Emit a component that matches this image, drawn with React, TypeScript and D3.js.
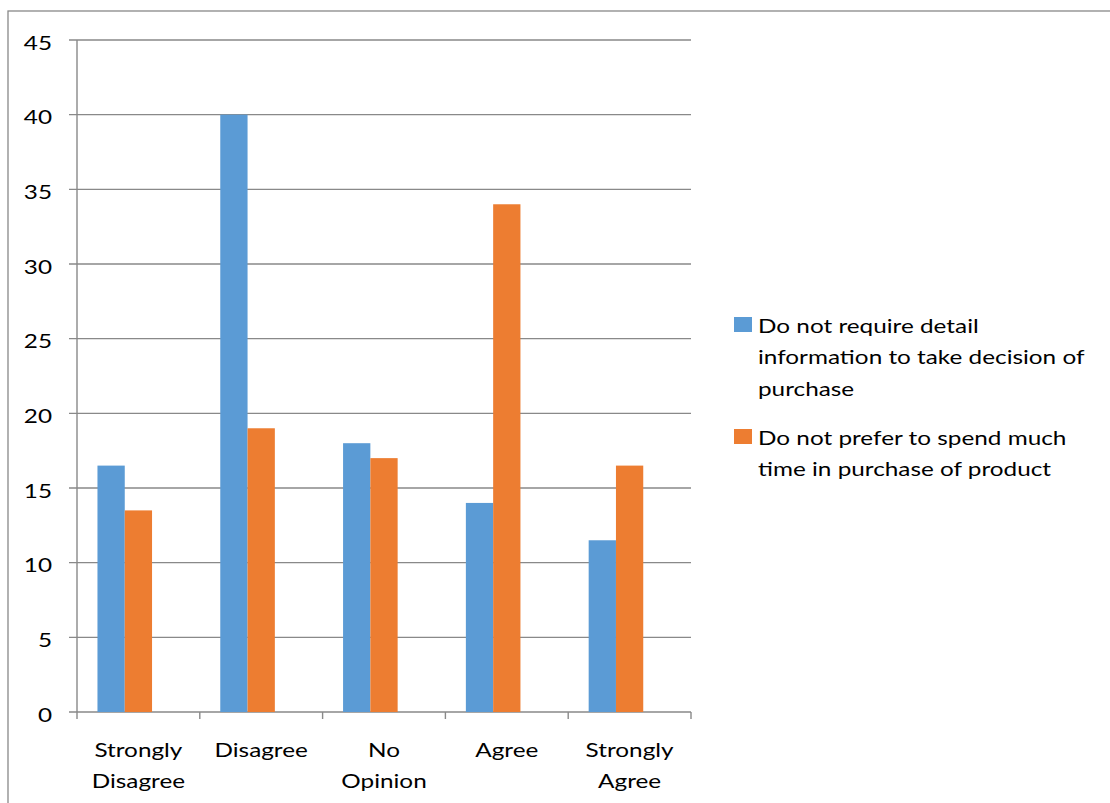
import React from "react";
import * as d3 from "d3";

const categories = ["Strongly Disagree", "Disagree", "No Opinion", "Agree", "Strongly Agree"];
const categoryLines = [["Strongly", "Disagree"], ["Disagree"], ["No", "Opinion"], ["Agree"], ["Strongly", "Agree"]];
const seriesNames = [
  "Do not require detail information to take decision of purchase",
  "Do not prefer to spend much time in purchase of product",
];
const legendLines = [
  ["Do not require detail", "information to take decision of", "purchase"],
  ["Do not prefer to spend much", "time in purchase of product"],
];
const seriesA = [16.5, 40, 18, 14, 11.5];
const seriesB = [13.5, 19, 17, 34, 16.5];
const yTicks = [0, 5, 10, 15, 20, 25, 30, 35, 40, 45];
const colors = ["#5B9BD5", "#ED7D31"];

const W = 1110, H = 803;
const left = 77, right = 691, top = 40, bottom = 712;
const font = "Lato, 'Open Sans', sans-serif";
const axisColor = "#898989";
const SX = 1.28;
const FS = 19;

export default function App() {
  const x = d3.scaleBand<string>().domain(categories).range([left, right]).paddingInner(0).paddingOuter(0);
  const y = d3.scaleLinear().domain([0, 45]).range([bottom, top]);
  const bw = x.bandwidth();
  const barW = bw / 4.5; // 3 slots (third empty), gap width 150%
  const series = [seriesA, seriesB];
  return (
    <svg width={W} height={H} style={{ position: "absolute", left: 0, top: 0, background: "#fff" }}>
      <rect x={8} y={11} width={W} height={H} fill="#fff" stroke={axisColor} strokeWidth={1.3} />
      {yTicks.map((t) => (
        <g key={t}>
          <line x1={69} x2={right} y1={y(t)} y2={y(t)} stroke={axisColor} strokeWidth={1.4} />
          <text transform={`translate(52,${y(t) + 9.5}) scale(${SX},1)`} textAnchor="end" fontFamily={font} fontSize={FS} fill="#000">{t}</text>
        </g>
      ))}
      <line x1={left} x2={left} y1={top} y2={bottom} stroke={axisColor} strokeWidth={1.4} />
      {categories.map((c) => (
        <line key={c} x1={x(c) as number} x2={x(c) as number} y1={bottom} y2={bottom + 7} stroke={axisColor} strokeWidth={1.4} />
      ))}
      <line x1={right} x2={right} y1={bottom} y2={bottom + 7} stroke={axisColor} strokeWidth={1.4} />
      {series.map((vals, si) =>
        vals.map((v, i) => {
          const bx = (x(categories[i]) as number) + 0.75 * barW + si * barW;
          return <rect key={si + "-" + i} x={bx} y={y(v)} width={barW} height={y(0) - y(v)} fill={colors[si]} />;
        })
      )}
      {categoryLines.map((lines, i) => (
        <text key={i} transform={`translate(${(x(categories[i]) as number) + bw / 2},757) scale(${SX},1)`} textAnchor="middle" fontFamily={font} fontSize={FS} fill="#000">
          {lines.map((l, j) => (
            <tspan key={j} x={0} y={j * 31}>{l}</tspan>
          ))}
        </text>
      ))}
      {legendLines.map((lines, si) => {
        const y0 = si === 0 ? 333 : 445;
        return (
          <g key={si}>
            <rect x={734} y={y0 - 16} width={18} height={15} fill={colors[si]} />
            <text transform={`translate(758,${y0}) scale(${SX},1)`} fontFamily={font} fontSize={FS} fill="#000">
              <title>{seriesNames[si]}</title>
              {lines.map((l, j) => (
                <tspan key={j} x={0} y={j * 31.5}>{l}</tspan>
              ))}
            </text>
          </g>
        );
      })}
    </svg>
  );
}
